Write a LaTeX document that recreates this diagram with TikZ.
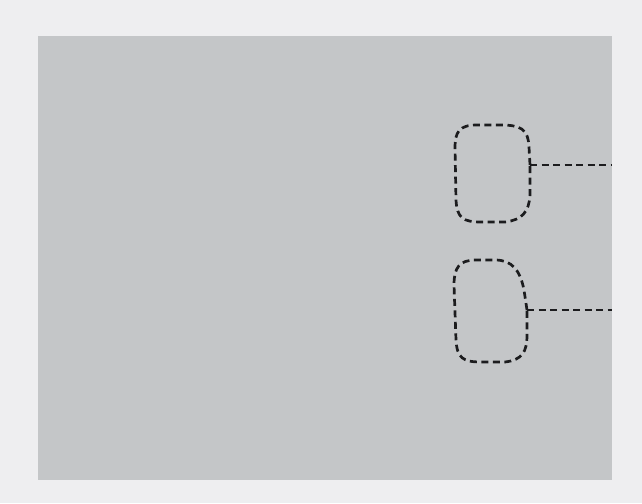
\documentclass[tikz,border=0pt]{standalone}
\definecolor{pagebg}{HTML}{EEEEF0}
\definecolor{panel}{HTML}{C4C6C8}
\definecolor{ink}{HTML}{1C1C1E}
\begin{document}
\begin{tikzpicture}[x=1pt,y=-1pt,
  outline/.style={draw=ink,line width=2.7pt,dash pattern=on 7pt off 4.5pt,line join=round}]
\fill[pagebg] (0,0) rectangle (642,503);
\useasboundingbox (0,0) rectangle (642,503);
\fill[panel] (38,36) rectangle (612,480);
% named junctions and free ends
\coordinate (j1) at (530,165);
\coordinate (e1) at (612,165);
\coordinate (j2) at (527,310);
\coordinate (e2) at (612,310);
% upper blob
\draw[outline] (j1) -- (529,147) .. controls (528,129) and (521,125) .. (500,125)
  -- (477,125) .. controls (459,125) and (455,132) .. (455,148)
  -- (456,200) .. controls (457,218) and (463,222) .. (481,222)
  -- (505,222) .. controls (522,220) and (529,212) .. (530,195) -- cycle;
\draw[outline] (j1) -- (e1);
% lower blob
\draw[outline] (j2) -- (524,290) .. controls (520,270) and (512,260) .. (495,260)
  -- (476,260) .. controls (459,260) and (454,268) .. (454,285)
  -- (456,340) .. controls (457,358) and (463,362) .. (481,362)
  -- (505,362) .. controls (522,360) and (527,352) .. (527,335) -- cycle;
\draw[outline] (j2) -- (e2);
\end{tikzpicture}
\end{document}
